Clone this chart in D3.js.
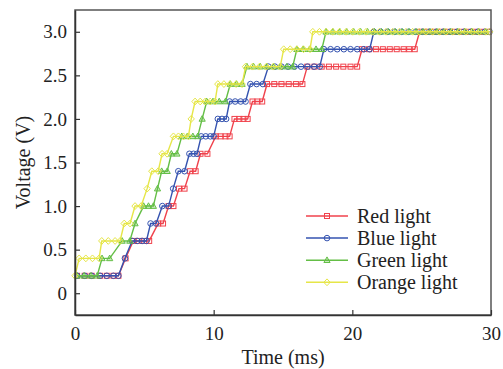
<!DOCTYPE html>
<html><head><meta charset="utf-8">
<script src="https://cdn.jsdelivr.net/npm/d3@7/dist/d3.min.js"></script>
<style>
html,body{margin:0;padding:0;background:#fff;}
svg{display:block;}
svg text{font-family:"Liberation Serif","Times New Roman",Times,serif !important;fill:#222;}
</style></head>
<body>
<script>
// ---- data (time in ms, voltage in V) ----
const seriesNames = ["Red light", "Blue light", "Green light", "Orange light"];
const seriesColors = ["#f0424c", "#3553b0", "#64be46", "#e6e648"];

const redT = [0.15,0.7,1.2,1.8,2.29,2.77,3.13,3.65,4.2,4.6,5.0,5.35,6.0,6.35,6.75,7.1,7.5,7.9,8.3,8.7,9.05,9.55,10.15,10.5,10.85,11.15,11.5,11.85,12.15,12.45,12.8,13.15,13.5,13.85,14.37,14.89,15.41,15.93,16.4,16.75,17.27,17.79,18.31,18.83,19.35,19.87,20.35,20.7,21.2,21.7,22.2,22.7,23.2,23.7,24.1,24.5,24.85,25.35,25.85,26.35,26.85,27.35,27.85,28.35,28.85,29.35,29.85];
const redV = [0.2,0.2,0.2,0.2,0.2,0.2,0.2,0.4,0.6,0.6,0.6,0.6,0.8,0.8,1.0,1.0,1.2,1.2,1.4,1.4,1.6,1.6,1.8,1.8,1.8,1.8,2.0,2.0,2.0,2.0,2.2,2.2,2.2,2.4,2.4,2.4,2.4,2.4,2.4,2.6,2.6,2.6,2.6,2.6,2.6,2.6,2.6,2.8,2.8,2.8,2.8,2.8,2.8,2.8,2.8,2.8,3.0,3.0,3.0,3.0,3.0,3.0,3.0,3.0,3.0,3.0,3.0];

const blueT = [0.15,0.7,1.2,1.8,2.29,2.77,3.13,3.6,4.12,4.48,4.84,5.15,5.45,5.85,6.3,6.75,7.08,7.45,7.9,8.25,8.55,8.8,9.1,9.43,9.76,10.0,10.3,10.6,10.9,11.15,11.55,11.95,12.3,12.65,13.1,13.55,13.95,14.42,14.89,15.36,15.83,16.3,16.77,17.24,17.65,17.95,18.43,18.91,19.39,19.87,20.35,20.83,21.25,21.55,22.05,22.55,23.05,23.55,24.05,24.55,25.05,25.55,26.05,26.55,27.05,27.55,28.05,28.55,29.05,29.55,29.9];
const blueV = [0.2,0.2,0.2,0.2,0.2,0.2,0.2,0.4,0.6,0.6,0.6,0.6,0.8,0.8,1.0,1.0,1.2,1.4,1.4,1.6,1.6,1.6,1.8,1.8,1.8,1.8,2.0,2.0,2.0,2.2,2.2,2.2,2.2,2.4,2.4,2.4,2.6,2.6,2.6,2.6,2.6,2.6,2.6,2.6,2.6,2.8,2.8,2.8,2.8,2.8,2.8,2.8,2.8,3.0,3.0,3.0,3.0,3.0,3.0,3.0,3.0,3.0,3.0,3.0,3.0,3.0,3.0,3.0,3.0,3.0,3.0];

const greenT = [0.15,0.65,1.15,1.6,1.95,2.5,3.4,3.95,4.33,4.95,5.3,5.65,5.95,6.25,6.65,6.95,7.35,7.7,8.1,8.5,8.85,9.17,9.5,9.95,10.4,10.85,11.2,11.65,12.05,12.4,12.88,13.36,13.84,14.32,14.8,15.28,15.7,16.0,16.45,16.92,17.38,17.8,18.1,18.6,19.1,19.6,20.1,20.6,21.1,21.6,22.1,22.6,23.1,23.6,24.1,24.6,25.1,25.6,26.1,26.6,27.1,27.6,28.1,28.6,29.1,29.6];
const greenV = [0.2,0.2,0.2,0.2,0.4,0.4,0.6,0.6,0.8,1.0,1.0,1.0,1.2,1.4,1.4,1.6,1.6,1.8,1.8,1.8,1.8,2.0,2.2,2.2,2.2,2.2,2.4,2.4,2.4,2.6,2.6,2.6,2.6,2.6,2.6,2.6,2.6,2.8,2.8,2.8,2.8,2.8,3.0,3.0,3.0,3.0,3.0,3.0,3.0,3.0,3.0,3.0,3.0,3.0,3.0,3.0,3.0,3.0,3.0,3.0,3.0,3.0,3.0,3.0,3.0,3.0];

const orangeT = [0.0,0.3,0.78,1.26,1.74,1.93,2.4,2.89,3.25,3.55,3.97,4.33,4.77,5.2,5.54,6.0,6.28,6.64,7.1,7.46,7.82,8.18,8.38,8.66,9.03,9.39,9.75,10.1,10.3,10.74,11.18,11.62,12.05,12.3,12.8,13.3,13.8,14.3,14.8,15.05,15.52,16.0,16.48,16.95,17.15,17.63,18.11,18.59,19.07,19.55,20.03,20.51,20.99,21.47,21.95,22.43,22.91,23.39,23.87,24.35,24.83,25.31,25.79,26.27,26.75,27.23,27.71,28.19,28.67,29.15,29.63,29.9];
const orangeV = [0.2,0.4,0.4,0.4,0.4,0.6,0.6,0.6,0.6,0.8,0.8,1.0,1.0,1.2,1.4,1.4,1.6,1.6,1.8,1.8,1.8,1.8,2.0,2.2,2.2,2.2,2.2,2.2,2.4,2.4,2.4,2.4,2.4,2.6,2.6,2.6,2.6,2.6,2.6,2.8,2.8,2.8,2.8,2.8,3.0,3.0,3.0,3.0,3.0,3.0,3.0,3.0,3.0,3.0,3.0,3.0,3.0,3.0,3.0,3.0,3.0,3.0,3.0,3.0,3.0,3.0,3.0,3.0,3.0,3.0,3.0,3.0];

const yTicks = [0, 0.5, 1.0, 1.5, 2.0, 2.5, 3.0];
const yTickLabels = ["0", "0.5", "1.0", "1.5", "2.0", "2.5", "3.0"];
const xTicks = [0, 10, 20, 30];
const xTickLabels = ["0", "10", "20", "30"];
const xTitle = "Time (ms)";
const yTitle = "Voltage (V)";

// ---- layout ----
const W = 503, H = 369;
const L = 75, R = 491, T = 10, B = 315;
const FONT = '"Liberation Serif", "Times New Roman", Times, serif';

const svg = d3.select("body").append("svg").attr("width", W).attr("height", H)
  .attr("font-family", FONT);
const x = d3.scaleLinear().domain([0, 30]).range([L, R]);
const y = d3.scaleLinear().domain([-0.25, 3.25]).range([B, T]);

const series = [
  {t: redT, v: redV, shape: "square"},
  {t: blueT, v: blueV, shape: "circle"},
  {t: greenT, v: greenV, shape: "triangle"},
  {t: orangeT, v: orangeV, shape: "diamond"}
].map((s, i) => ({...s, name: seriesNames[i], color: seriesColors[i],
  pts: s.t.map((t, j) => [t, s.v[j]])}));

const line = d3.line().x(d => x(d[0])).y(d => y(d[1]));

function marker(g, shape, color, cx, cy) {
  const common = el => el.attr("fill", "none").attr("stroke", color).attr("stroke-width", 1);
  if (shape === "square") {
    common(g.append("rect").attr("x", cx - 2.5).attr("y", cy - 2.5).attr("width", 5).attr("height", 5));
  } else if (shape === "circle") {
    common(g.append("circle").attr("cx", cx).attr("cy", cy).attr("r", 2.8));
  } else if (shape === "triangle") {
    common(g.append("path").attr("d", `M${cx},${cy-3.3}L${cx+3.1},${cy+2.3}L${cx-3.1},${cy+2.3}Z`))
      .attr("fill", color).attr("fill-opacity", 0.35);
  } else {
    common(g.append("path").attr("d", `M${cx},${cy-3.4}L${cx+3.2},${cy}L${cx},${cy+3.4}L${cx-3.2},${cy}Z`));
  }
}

const plot = svg.append("g");
series.forEach(s => {
  const g = plot.append("g");
  g.append("path").datum(s.pts).attr("d", line)
    .attr("fill", "none").attr("stroke", s.color).attr("stroke-width", 1.4);
  s.pts.forEach(p => marker(g, s.shape, s.color, x(p[0]), y(p[1])));
});

// frame
svg.append("rect").attr("x", L).attr("y", T).attr("width", R - L).attr("height", B - T)
  .attr("fill", "none").attr("stroke", "#555").attr("stroke-width", 1.5);

// axes
const yAxis = d3.axisLeft(y).tickValues(yTicks)
  .tickFormat((d, i) => yTickLabels[i]).tickSizeInner(-5).tickSizeOuter(0).tickPadding(8);
const gy = svg.append("g").attr("transform", `translate(${L},0)`).call(yAxis);
const xAxis = d3.axisBottom(x).tickValues(xTicks)
  .tickFormat((d, i) => xTickLabels[i]).tickSizeInner(-5).tickSizeOuter(0).tickPadding(12);
const gx = svg.append("g").attr("transform", `translate(0,${B})`).call(xAxis);
[gx, gy].forEach(g => {
  g.attr("font-family", FONT).attr("font-size", 19);
  g.select(".domain").attr("stroke", "#333").attr("stroke-width", 1.5);
  g.selectAll(".tick line").attr("stroke", "#333").attr("stroke-width", 1.2);
  g.selectAll(".tick text").attr("fill", "#222");
});

// titles
svg.append("text").attr("x", (L + R) / 2).attr("y", 364).attr("text-anchor", "middle")
  .attr("font-size", 20).text(xTitle);
svg.append("text").attr("transform", `translate(30,${(T + B) / 2}) rotate(-90)`)
  .attr("text-anchor", "middle").attr("font-size", 20).text(yTitle);

// legend
const lg = svg.append("g");
series.forEach((s, i) => {
  const cy = 216 + i * 22.1;
  lg.append("line").attr("x1", 306).attr("x2", 348).attr("y1", cy).attr("y2", cy)
    .attr("stroke", s.color).attr("stroke-width", 1.5);
  marker(lg, s.shape, s.color, 327, cy);
  lg.append("text").attr("x", 357).attr("y", cy).attr("dy", "0.33em")
    .attr("font-size", 20).text(s.name);
});
</script>
</body></html>
